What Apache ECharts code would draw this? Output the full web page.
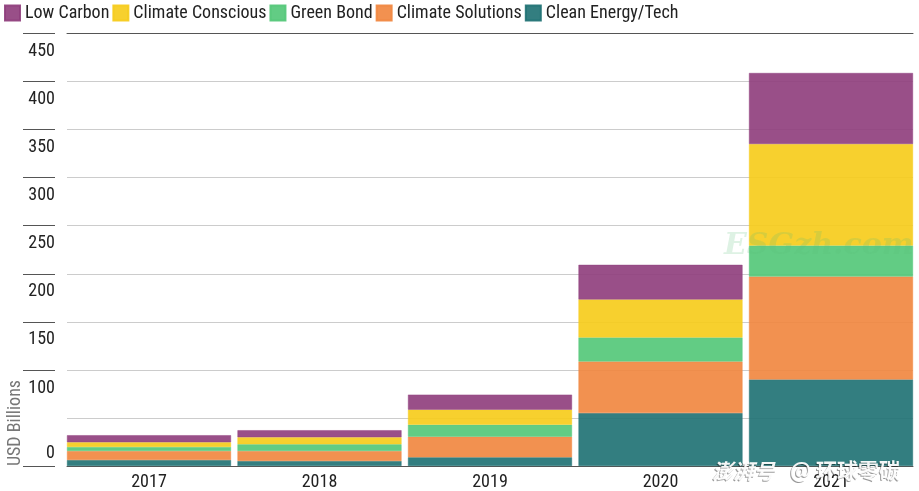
<!DOCTYPE html>
<html lang="en">
<head>
	<meta charset="UTF-8">
	<title>USD Billions</title>
	<style>
		html,body{margin:0;padding:0;background:#fff;}
		#main{width:919px;height:491px;}
	</style>
</head>
<body>
	<div id="main"></div>
	<script src="https://cdn.jsdelivr.net/npm/echarts@6/dist/echarts.min.js"></script>
	<script>
		var years = ['2017', '2018', '2019', '2020', '2021'];
		var cleanEnergy = [6.2, 5.2, 9, 55, 90];
		var climateSolutions = [9.4, 10.4, 21.5, 53.7, 107];
		var greenBond = [4.2, 7, 12.5, 25, 32.2];
		var climateConscious = [4.9, 7.3, 15.6, 39.5, 105.7];
		var lowCarbon = [7.3, 7.3, 15.6, 36, 73.8];
		var legendOrder = ['Low Carbon', 'Climate Conscious', 'Green Bond', 'Climate Solutions', 'Clean Energy/Tech'];
		var tickValues = [0, 100, 150, 200, 250, 300, 350, 400, 450];

		var font = '"Roboto Condensed", sans-serif';
		var dark = '#555';

		function bar(name, values, color) {
			return {
				name: name,
				type: 'bar',
				stack: 'total',
				xAxisIndex: 2,
				yAxisIndex: 1,
				barCategoryGap: '3.8%',
				data: values,
				itemStyle: {color: color, opacity: 0.92, borderColor: color, borderWidth: 0.5},
				emphasis: {disabled: true}
			};
		}

		// white stamp text with a grey copy behind it, so it shows on the white page too
		function stamp(text, x, y, size, style) {
			var base = {text: text, fontFamily: '"Noto Sans CJK SC"', fontSize: size, fontStyle: style, fontWeight: 'bold'};
			return [
				{type: 'text', x: x - 1, y: y + 1, z: 10, style: Object.assign({fill: 'rgba(0,0,0,0.4)'}, base)},
				{type: 'text', x: x, y: y, z: 11, style: Object.assign({fill: 'rgba(255,255,255,0.95)'}, base)}
			];
		}

		var myChart = echarts.init(document.getElementById('main'));
		var option = {
			animation: false,
			legend: {
				data: legendOrder,
				left: 4,
				top: 4,
				padding: 0,
				itemWidth: 15,
				itemHeight: 15,
				itemGap: 3,
				icon: 'rect',
				textStyle: {fontFamily: font, fontSize: 18, color: '#222'}
			},
			grid: [
				{left: 67, top: 33.3, width: 846, height: 433},
				{left: 63.75, top: 33.3, width: 852.5, height: 433},
				{left: 55, top: 33.3, width: 5, height: 433}
			],
			xAxis: [
				{gridIndex: 0, type: 'value', min: 0, max: 1, position: 'bottom', splitLine: {show: false}, axisTick: {show: false}, axisLabel: {show: false}, axisLine: {show: true, lineStyle: {color: dark}}},
				{gridIndex: 0, type: 'value', min: 0, max: 1, position: 'top', splitLine: {show: false}, axisTick: {show: false}, axisLabel: {show: false}, axisLine: {show: true, lineStyle: {color: dark}}},
				{gridIndex: 1, type: 'category', data: years, axisLine: {show: false}, axisTick: {show: false}, axisLabel: {margin: 7, fontFamily: font, fontSize: 18, color: '#222'}},
				{gridIndex: 2, type: 'value', min: 0, max: 1, show: false, splitLine: {show: false}}
			],
			yAxis: [
				{gridIndex: 0, type: 'value', min: 0, max: 450, interval: 50, axisLine: {show: false}, axisTick: {show: false}, axisLabel: {show: false}, splitLine: {show: true, lineStyle: {color: '#ccc', width: 1}}},
				{gridIndex: 1, type: 'value', min: 0, max: 450, interval: 50, show: false, splitLine: {show: false}},
				{
					gridIndex: 2, type: 'value', min: 0, max: 450, interval: 50, position: 'left',
					axisLine: {show: false},
					axisTick: {show: true, length: 32, customValues: tickValues, lineStyle: {color: dark}},
					axisLabel: {
						customValues: tickValues,
						margin: 0,
						align: 'right',
						verticalAlign: 'top',
						verticalAlignMinLabel: 'bottom',
						padding: [9, 0, 4, 0],
						fontFamily: font, fontSize: 18, color: '#222'
					},
					splitLine: {show: false}
				}
			],
			series: [
				bar('Clean Energy/Tech', cleanEnergy, '#227375'),
				bar('Climate Solutions', climateSolutions, '#f18841'),
				bar('Green Bond', greenBond, '#55c87a'),
				bar('Climate Conscious', climateConscious, '#f6cc1c'),
				bar('Low Carbon', lowCarbon, '#90407e')
			],
			graphic: [
				{type: 'text', x: 15, y: 423, rotation: Math.PI / 2, z: 10, style: {text: 'USD Billions', fontFamily: font, fontSize: 18, fill: '#777', textAlign: 'center', textVerticalAlign: 'middle'}},
				{type: 'text', x: 724, y: 231, z: 10, style: {text: 'ESGzh.com', fontFamily: '"DejaVu Serif", serif', fontStyle: 'italic', fontWeight: 'bold', fontSize: 30, fill: 'rgba(90,190,120,0.2)'}}
			].concat(stamp('澎湃号', 712, 461, 21, 'italic'), stamp('@ 环球零碳', 790, 460, 21, 'normal'))
		};
		myChart.setOption(option);
	</script>
</body>
</html>
